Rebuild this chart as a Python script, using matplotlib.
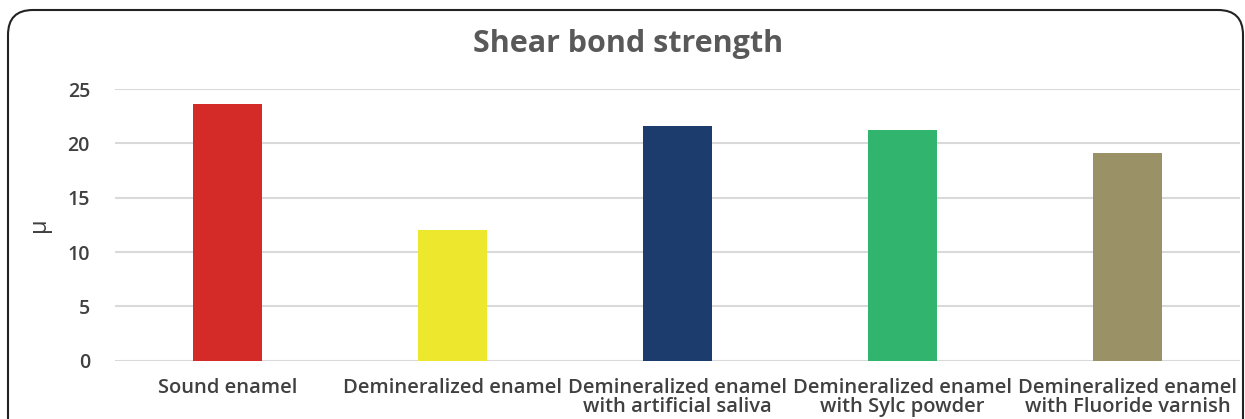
import matplotlib
matplotlib.use("Agg")
import matplotlib.pyplot as plt
from matplotlib.patches import FancyBboxPatch

categories = ["Sound enamel", "Demineralized enamel",
              "Demineralized enamel\nwith artificial saliva",
              "Demineralized enamel\nwith Sylc powder",
              "Demineralized enamel\nwith Fluoride varnish"]
values = [23.6, 12.0, 21.6, 21.2, 19.1]
colors = ["#D42A28", "#EDE82E", "#1C3C6E", "#31B56E", "#9A9167"]
yticks = [0, 5, 10, 15, 20, 25]

plt.rcParams['font.family'] = ['Open Sans', 'DejaVu Sans']
fig = plt.figure(figsize=(12.45, 4.19), dpi=100)
ax = fig.add_axes([115/1245, 58.3/419, 1125/1245, (360.7-89)/419])

x = list(range(len(categories)))
ax.bar(x, values, width=0.31, color=colors, zorder=3)
ax.set_xlim(-0.5, len(categories) - 0.5)
ax.set_ylim(0, 25)
ax.set_yticks(yticks)
ax.set_yticklabels([str(t) for t in yticks], fontsize=14, color="#404040", fontweight="semibold")
ax.set_xticks(x)
ax.set_xticklabels(categories, fontsize=14.5, color="#404040", fontweight="semibold", linespacing=0.95)
ax.tick_params(axis='y', length=0, pad=18)
ax.tick_params(axis='x', length=0, pad=12.5)
ax.grid(axis='y', color="#D9D9D9", linewidth=1.5, zorder=0)
for s in ax.spines.values():
    s.set_visible(False)
ax.set_ylabel("μ", fontsize=17, color="#404040", labelpad=12)

fig.text(628/1245, 1 - 44/419, "Shear bond strength", ha="center", va="center",
         fontsize=22, fontweight="bold", color="#595959")

border = FancyBboxPatch((8/1245, -30/419), (1243-8)/1245, (419-10+30)/419,
                        boxstyle="round,pad=0,rounding_size=0.02",
                        transform=fig.transFigure, fill=False, edgecolor="#222222",
                        linewidth=1.5, clip_on=False, mutation_aspect=1245/419)
fig.patches.append(border)

fig.savefig("out.png", dpi=100)
